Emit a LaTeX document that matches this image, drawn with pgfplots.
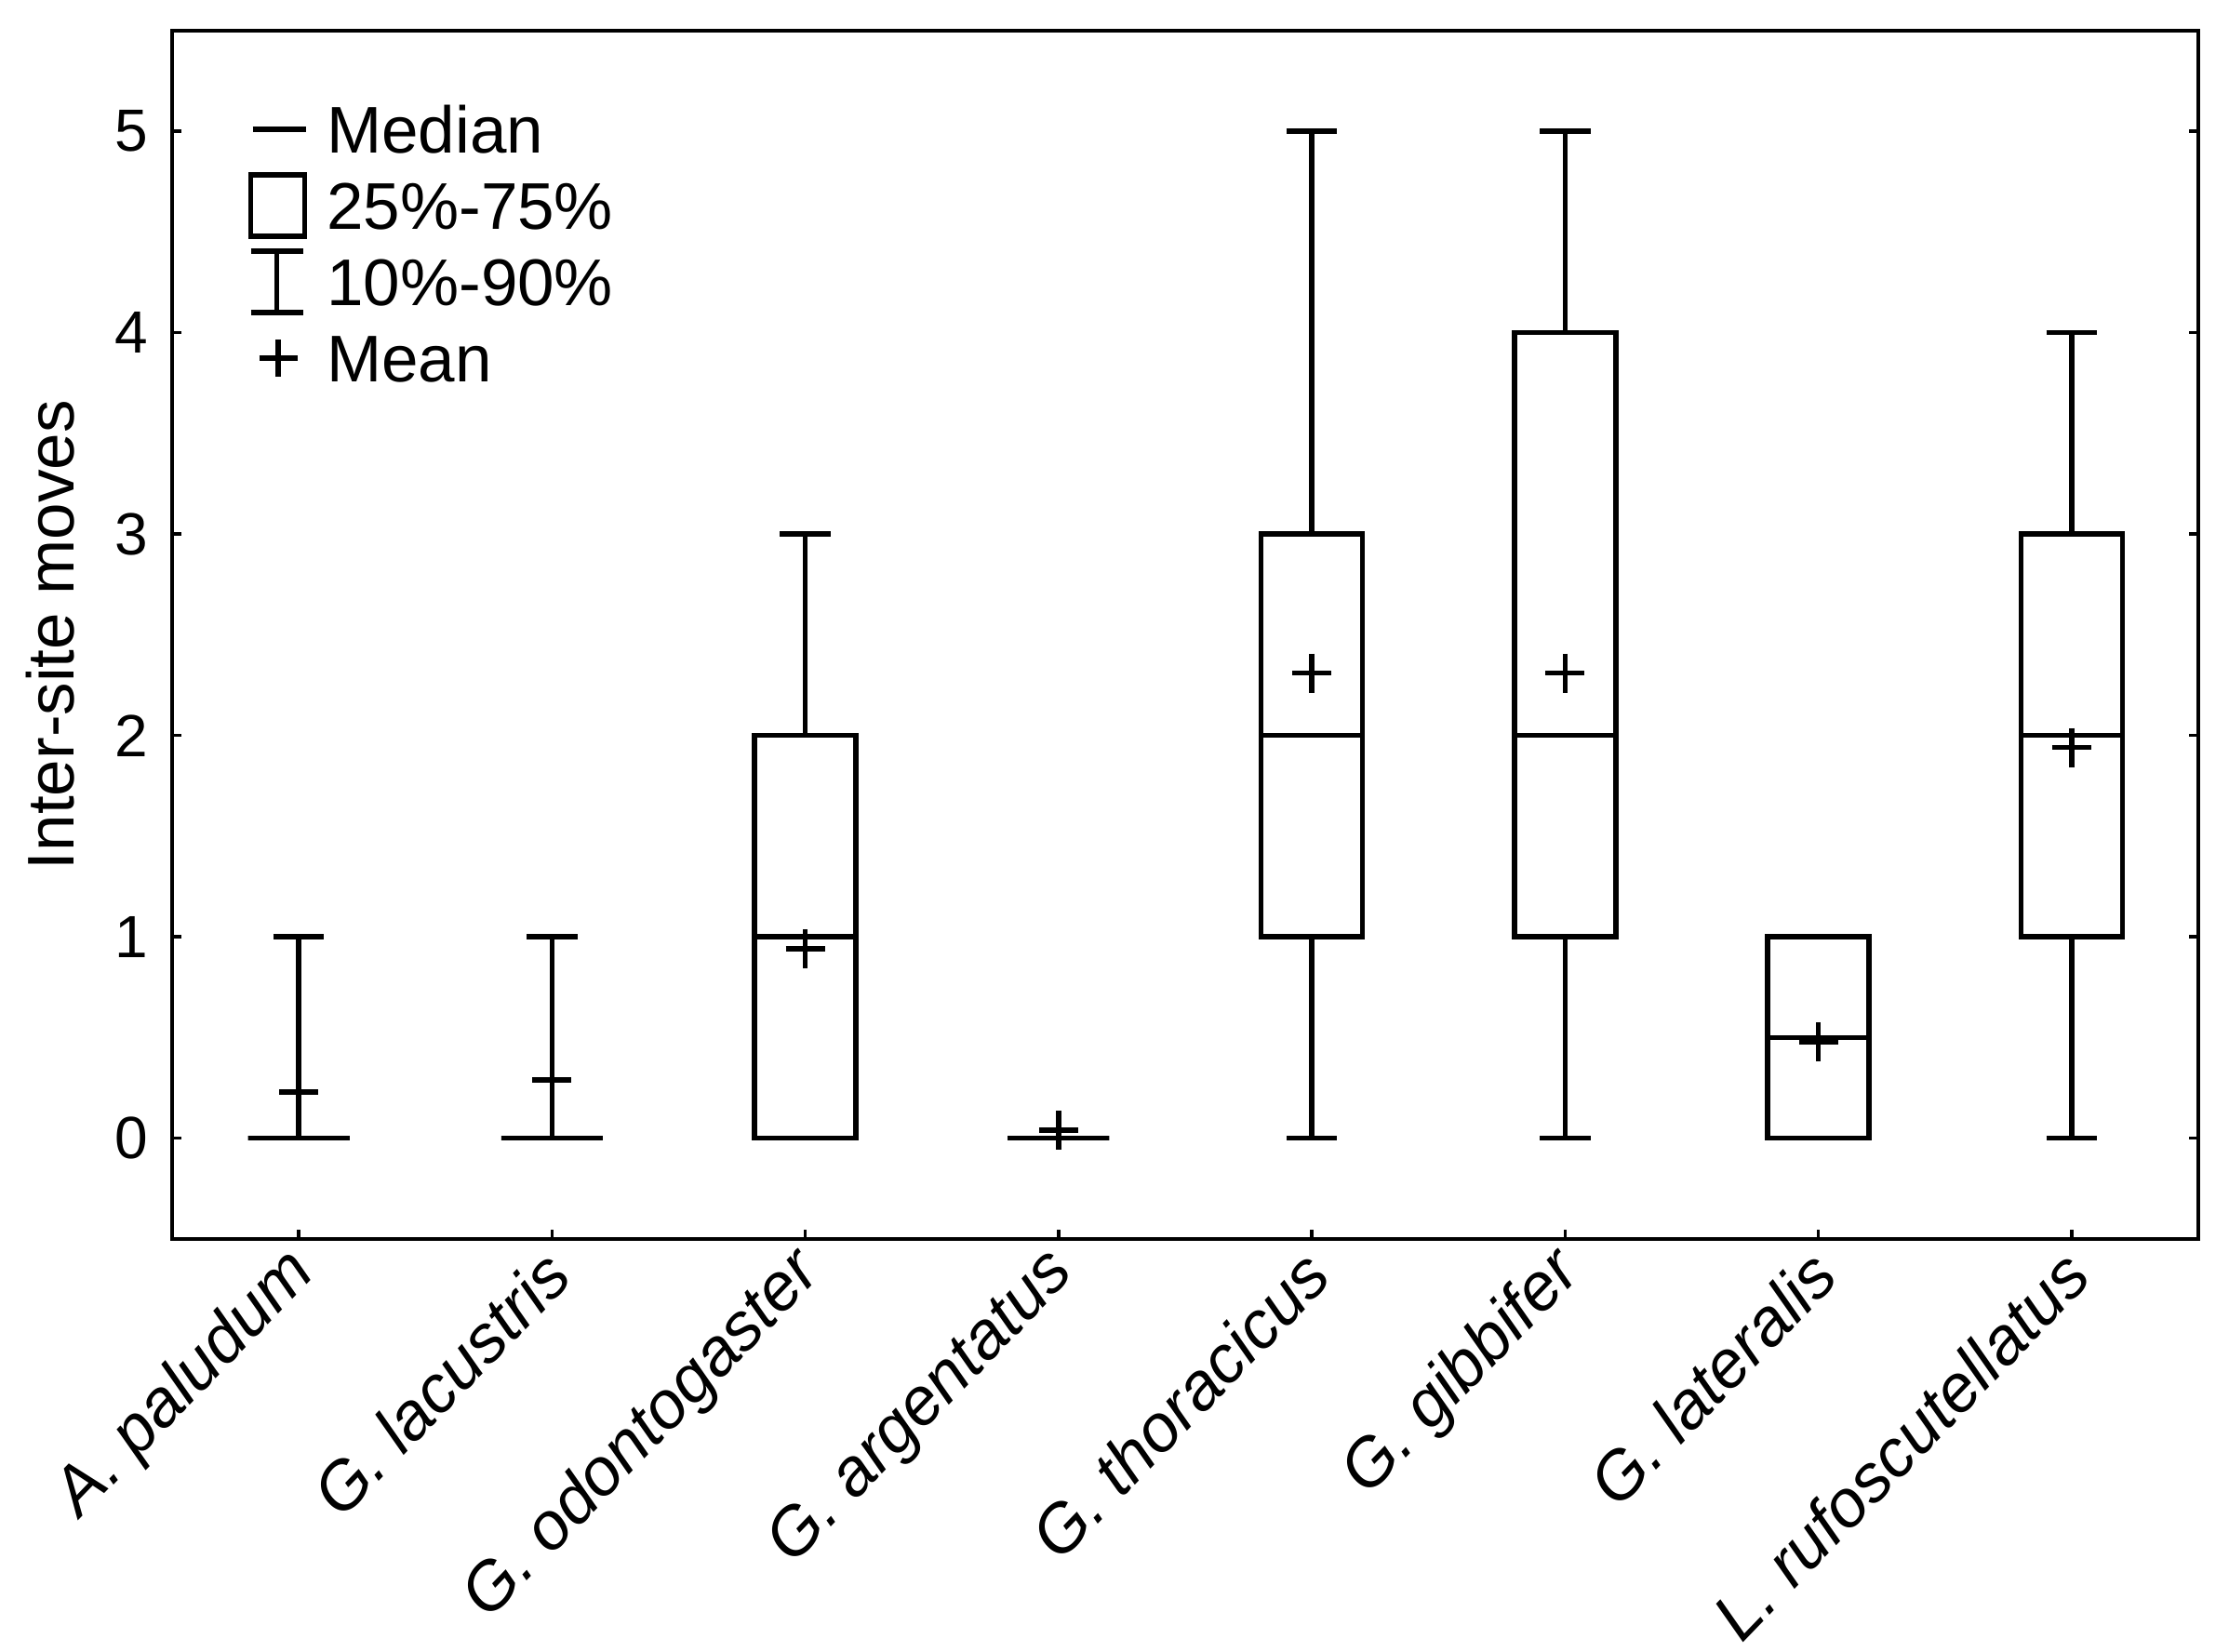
\documentclass[border=0pt]{standalone}
\usepackage{fontspec}
\setmainfont{Liberation Sans}
\usepackage{pgfplots}
\pgfplotsset{compat=1.18}
\usepgfplotslibrary{statistics}
\begin{document}
\begin{tikzpicture}
\begin{axis}[
  at={(0,0)}, anchor=south west,
  scale only axis, width=435.6pt, height=259.8pt,
  xmin=-0.5, xmax=7.5, ymin=-0.5, ymax=5.5,
  xtick={0,1,2,3,4,5,6,7},
  xticklabels={A. paludum, G. lacustris, G. odontogaster, G. argentatus, G. thoracicus, G. gibbifer, G. lateralis, L. rufoscutellatus},
  ytick={0,1,2,3,4,5},
  yticklabels={0,1,2,3,4,5},
  xtick pos=bottom, ytick pos=both,
  tick align=inside, major tick length=2pt,
  axis line style={line width=0.9pt},
  every tick/.style={black, line width=0.7pt},
  ylabel={Inter-site moves},
  ylabel style={at={(axis description cs:-0.0601,0.5)}, anchor=center, font=\fontsize{14.2}{17}\selectfont},
  yticklabel style={font=\fontsize{12.8}{15}\selectfont, inner sep=0pt, xshift=-5pt},
  xticklabel style={font=\fontsize{14.4}{17}\selectfont\itshape, inner sep=0pt, xshift=1.2pt, yshift=-5pt, rotate=46, anchor=east},
  legend style={draw=none, fill=none, at={(axis description cs:0.0371,0.9507)}, anchor=north west,
    inner sep=0pt, row sep=0pt, column sep=4pt,
    nodes={inner sep=0pt, text height=13.2pt, text depth=3.2pt},
    font=\fontsize{14.2}{17}\selectfont},
  legend cell align=left,
  boxplot/draw direction=y,
  boxplot/every average/.style={/tikz/mark=+, /tikz/mark size=4.2pt, /tikz/line width=1.1pt},
]
\addlegendimage{legend image code/.code={\draw[line width=1.1pt] (0.4pt,0pt) -- (11.8pt,0pt);}}
\addlegendentry{Median}
\addlegendimage{legend image code/.code={\draw[line width=1.1pt] (0pt,-6.6pt) rectangle (11.6pt,6.6pt);}}
\addlegendentry{25\%-75\%}
\addlegendimage{legend image code/.code={\draw[line width=1.1pt] (0pt,-6.6pt) -- (11.2pt,-6.6pt) (5.6pt,-6.6pt) -- (5.6pt,6.6pt) (0pt,6.6pt) -- (11.2pt,6.6pt);}}
\addlegendentry{10\%-90\%}
\addlegendimage{legend image code/.code={\draw[line width=1.1pt] (1.8pt,0pt) -- (10pt,0pt) (5.9pt,-4pt) -- (5.9pt,4pt);}}
\addlegendentry{Mean}

\addplot[black, line width=1.1pt, forget plot, boxplot prepared={draw position=0, box extend=0.4, whisker extend=0.2, lower whisker=0, lower quartile=0, median=0, upper quartile=0, upper whisker=1, average=0.23}] coordinates {};
\addplot[black, line width=1.1pt, forget plot, boxplot prepared={draw position=1, box extend=0.4, whisker extend=0.2, lower whisker=0, lower quartile=0, median=0, upper quartile=0, upper whisker=1, average=0.29}] coordinates {};
\addplot[black, line width=1.1pt, forget plot, boxplot prepared={draw position=2, box extend=0.4, whisker extend=0.2, lower whisker=0, lower quartile=0, median=1, upper quartile=2, upper whisker=3, average=0.94}] coordinates {};
\addplot[black, line width=1.1pt, forget plot, boxplot prepared={draw position=3, box extend=0.4, whisker extend=0.2, lower whisker=0, lower quartile=0, median=0, upper quartile=0, upper whisker=0, average=0.04}] coordinates {};
\addplot[black, line width=1.1pt, forget plot, boxplot prepared={draw position=4, box extend=0.4, whisker extend=0.2, lower whisker=0, lower quartile=1, median=2, upper quartile=3, upper whisker=5, average=2.31}] coordinates {};
\addplot[black, line width=1.1pt, forget plot, boxplot prepared={draw position=5, box extend=0.4, whisker extend=0.2, lower whisker=0, lower quartile=1, median=2, upper quartile=4, upper whisker=5, average=2.31}] coordinates {};
\addplot[black, line width=1.1pt, forget plot, boxplot prepared={draw position=6, box extend=0.4, whisker extend=0.2, lower whisker=0, lower quartile=0, median=0.5, upper quartile=1, upper whisker=1, average=0.48}] coordinates {};
\addplot[black, line width=1.1pt, forget plot, boxplot prepared={draw position=7, box extend=0.4, whisker extend=0.2, lower whisker=0, lower quartile=1, median=2, upper quartile=3, upper whisker=4, average=1.94}] coordinates {};
\end{axis}
\pgfresetboundingbox
\useasboundingbox (-37pt,-88.8pt) rectangle (442.2pt,266.4pt);
\end{tikzpicture}
\end{document}
